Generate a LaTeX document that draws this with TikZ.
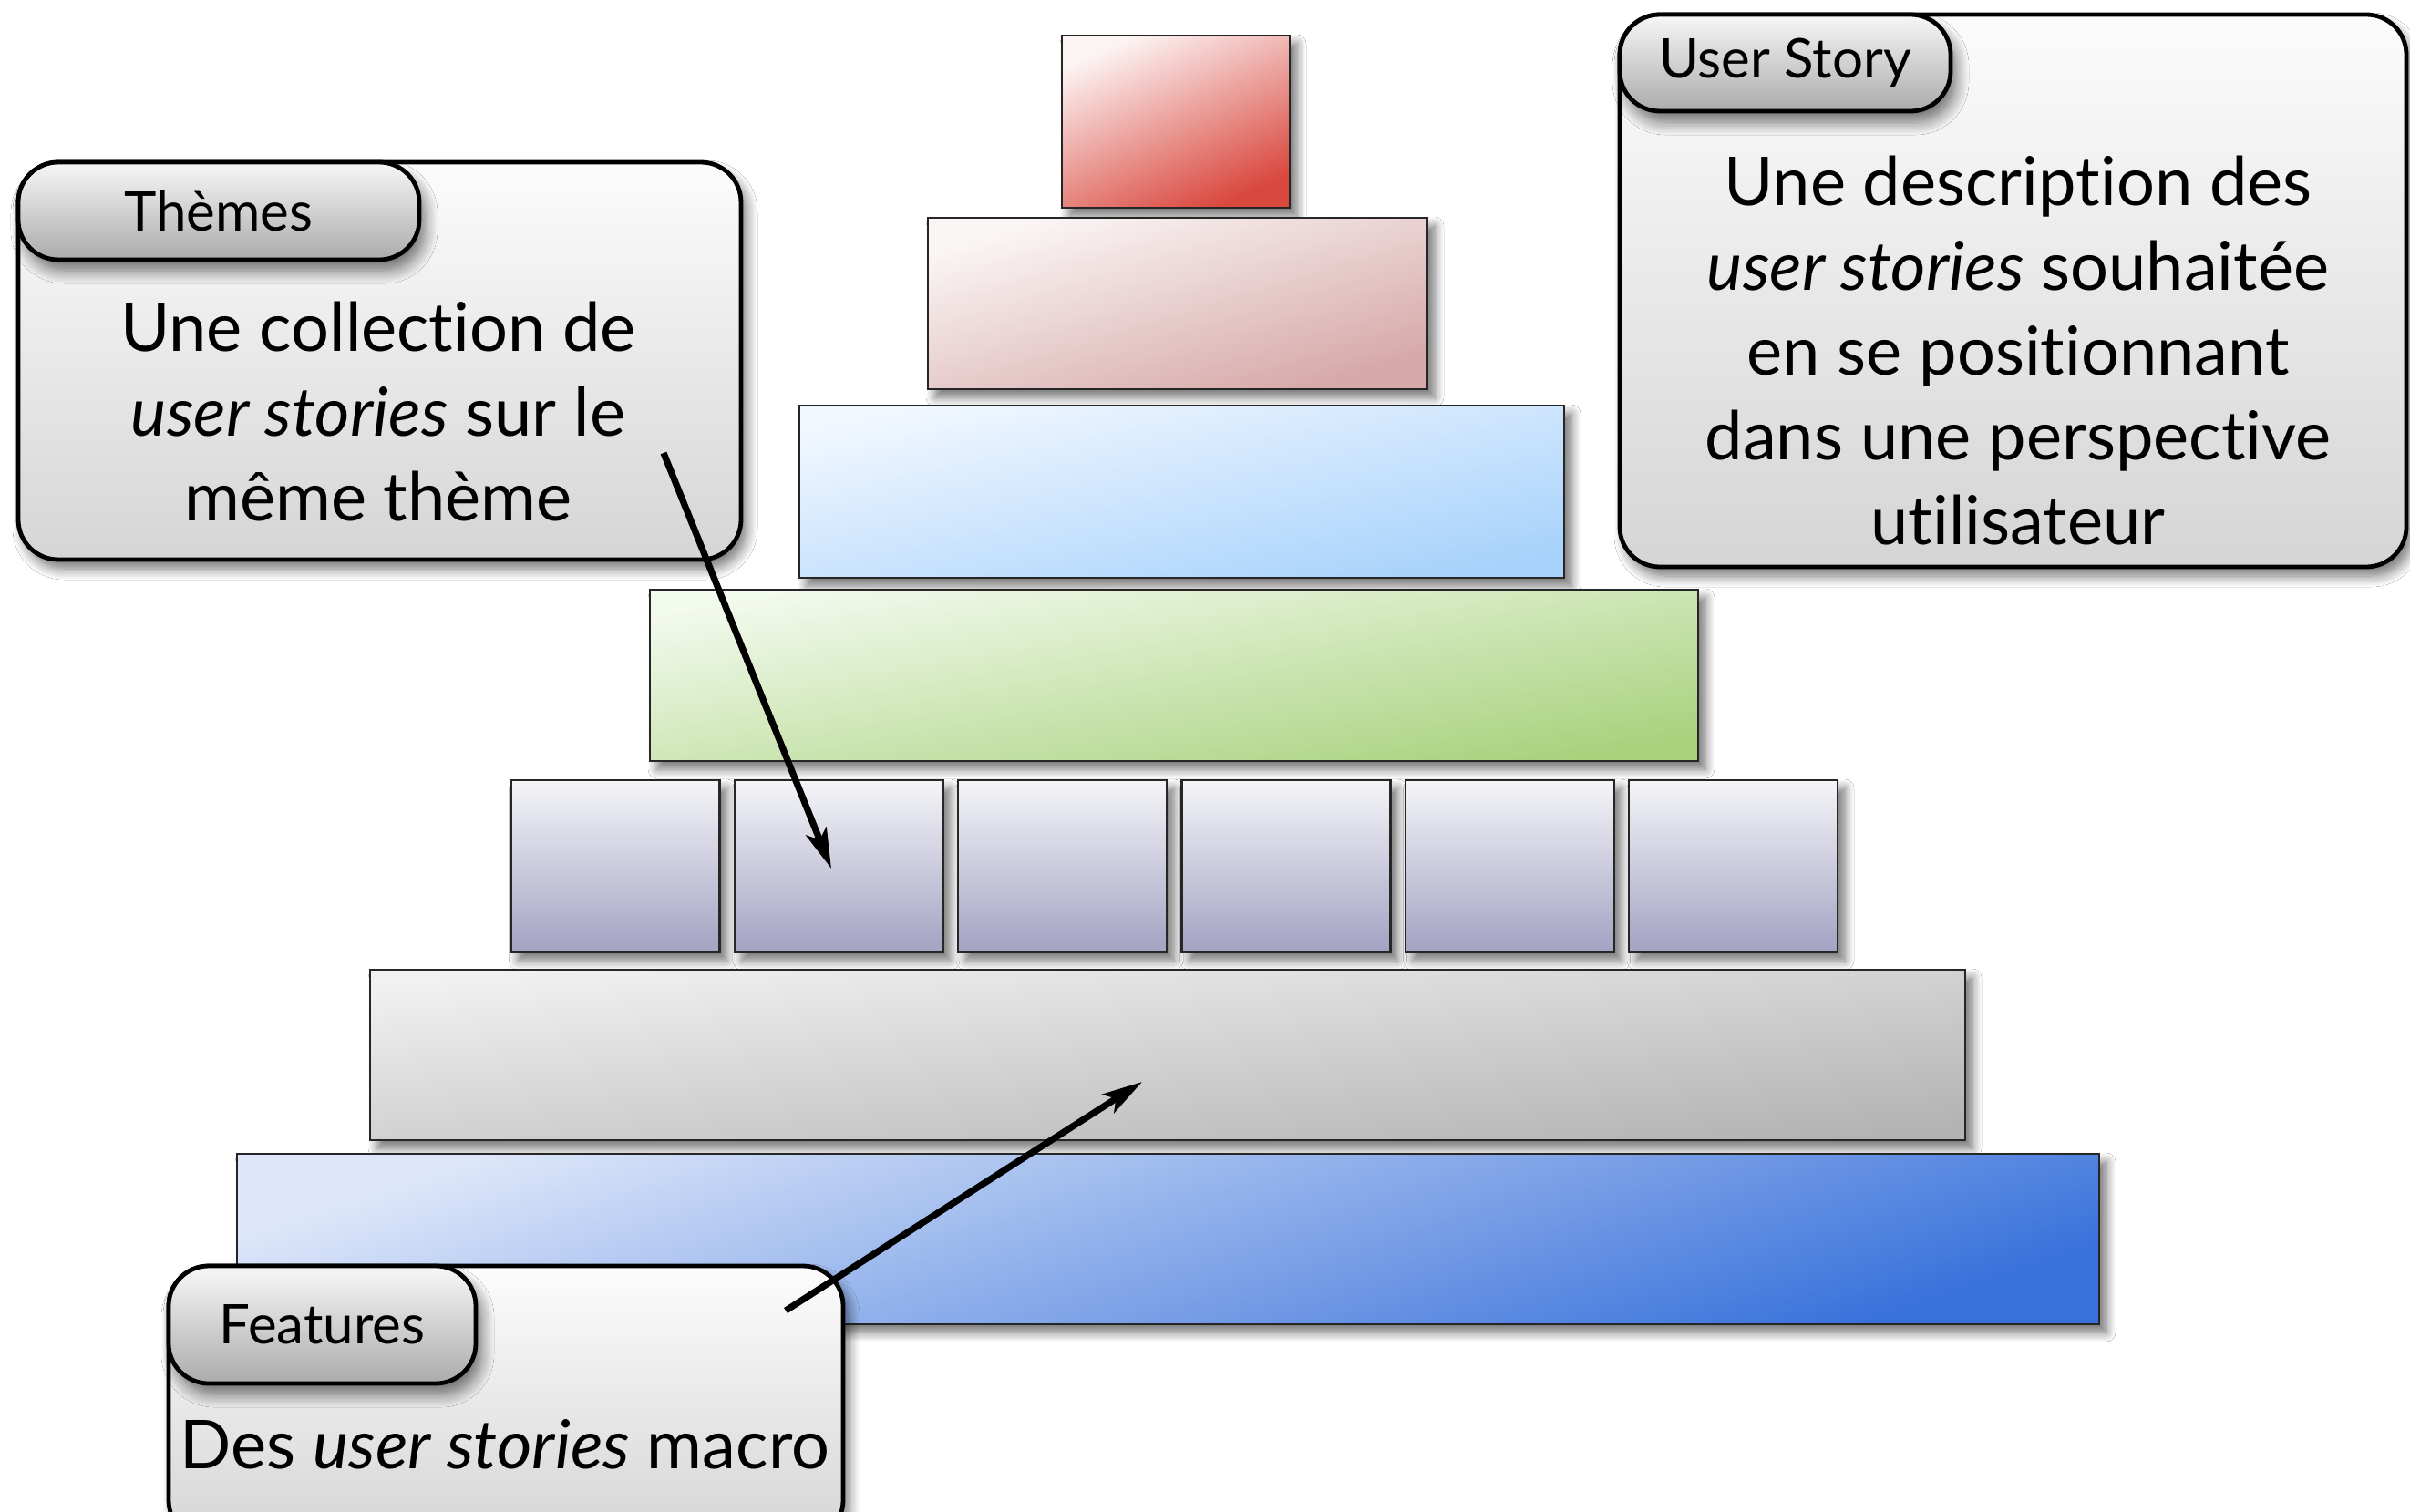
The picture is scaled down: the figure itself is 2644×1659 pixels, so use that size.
\documentclass[tikz,border=0pt]{standalone}
\usepackage{fontspec}
\setmainfont{Lato}[Ligatures={NoCommon,NoRequired,NoContextual}]
\usetikzlibrary{arrows.meta,shadows.blur}
\definecolor{redA}{HTML}{FCF3F3}\definecolor{redB}{HTML}{D9483E}
\definecolor{pinkA}{HTML}{FBF6F6}\definecolor{pinkB}{HTML}{D6A8A8}
\definecolor{lbA}{HTML}{F1F7FF}\definecolor{lbB}{HTML}{A7D2FB}
\definecolor{grA}{HTML}{F3FAEE}\definecolor{grB}{HTML}{A8D27E}
\definecolor{puA}{HTML}{F5F5F8}\definecolor{puB}{HTML}{A2A2C3}
\definecolor{gyA}{HTML}{F1F1F1}\definecolor{gyB}{HTML}{B3B3B3}
\definecolor{blA}{HTML}{DDE7F9}\definecolor{blB}{HTML}{3A72DB}
\definecolor{boxA}{HTML}{FCFCFC}\definecolor{boxB}{HTML}{D5D5D5}
\definecolor{tabA}{HTML}{F7F7F7}\definecolor{tabB}{HTML}{ABABAB}
\begin{document}
\begin{tikzpicture}[x=0.5pt,y=-0.5pt,
  layer/.style={draw=black!85, line width=1.2pt, inner sep=0pt, outer sep=0pt,
    blur shadow={shadow xshift=4pt, shadow yshift=-4.5pt, shadow blur radius=5pt, shadow blur steps=10, shadow opacity=55}},
  callout/.style={draw=black, line width=2.4pt, rounded corners=22pt, inner sep=0pt, outer sep=0pt,
    top color=boxA, bottom color=boxB,
    blur shadow={shadow xshift=3pt, shadow yshift=-5pt, shadow blur radius=6pt, shadow blur steps=10, shadow opacity=55}},
  tab/.style={draw=black, line width=2.4pt, rounded corners=22pt, inner sep=0pt, outer sep=0pt,
    top color=tabA, bottom color=tabB, font=\fontsize{30}{36}\selectfont,
    blur shadow={shadow xshift=3pt, shadow yshift=-6pt, shadow blur radius=7pt, shadow blur steps=10, shadow opacity=55}},
  body/.style={align=center, inner sep=0pt, font=\fontsize{37}{46.5}\selectfont},
  arr/.style={line width=3.6pt, -{Stealth[length=22pt, width=12pt, inset=5pt]}}
]
\useasboundingbox (0,0) rectangle (2644,1659);
\fill[white] (0,0) rectangle (2644,1659);

% pyramid layers
\node[layer, top color=redA, bottom color=redB, shading angle=25,
  minimum width=125pt, minimum height=94.5pt] (red) at (1290,133.5) {};
\node[layer, top color=pinkA, bottom color=pinkB, shading angle=17,
  minimum width=274pt, minimum height=94pt] (pink) at (1292,333) {};
\node[layer, top color=lbA, bottom color=lbB, shading angle=12,
  minimum width=419.5pt, minimum height=94.5pt] (lblue) at (1296.5,539.5) {};
\node[layer, top color=grA, bottom color=grB, shading angle=10,
  minimum width=575pt, minimum height=94pt] (green) at (1288,741) {};
\foreach \i/\cx in {1/675,2/920.3,3/1165.6,4/1410.9,5/1656.2,6/1901.5}{
  \node[layer, top color=puA, bottom color=puB,
    minimum width=114.5pt, minimum height=94.5pt] (story\i) at (\cx,950.5) {};
}
\node[layer, top color=gyA, bottom color=gyB, shading angle=6,
  minimum width=875pt, minimum height=93.5pt] (gray) at (1281,1157.5) {};
\node[layer, top color=blA, bottom color=blB, shading angle=18,
  minimum width=1021.5pt, minimum height=93.5pt] (blue) at (1281.5,1359.5) {};

% callout: Themes
\node[callout, minimum width=396.5pt, minimum height=218pt] (themesBox) at (416.5,396) {};
\node[tab, minimum width=220pt, minimum height=53.5pt] (themesTab) at (240,231.5) {Thèmes};
\node[body] (themesText) at (415,452) {Une collection de\\\emph{user stories} sur le\\même thème};

% callout: User Story
\node[callout, minimum width=431.5pt, minimum height=303pt] (usBox) at (2208.5,319) {};
\node[tab, minimum width=181.5pt, minimum height=53pt] (usTab) at (1958.5,69) {User Story};
\node[body] (usText) at (2214,385) {Une description des\\\emph{user stories} souhaitée\\en se positionnant\\dans une perspective\\utilisateur};

% callout: Features
\node[callout, minimum width=370pt, minimum height=150.5pt] (featBox) at (555,1539.5) {};
\node[tab, minimum width=168.5pt, minimum height=64.5pt] (featTab) at (353.5,1453.5) {Features};
\node[body] (featText) at (554,1585) {Des \emph{user stories} macro};

% arrows
\coordinate (themesFrom) at (728,497);
\coordinate (themesTo) at (912,953);
\coordinate (featFrom) at (862,1438);
\coordinate (featTo) at (1253,1187);
\draw[arr] (themesFrom) -- (themesTo);
\draw[arr] (featFrom) -- (featTo);
\end{tikzpicture}
\end{document}
